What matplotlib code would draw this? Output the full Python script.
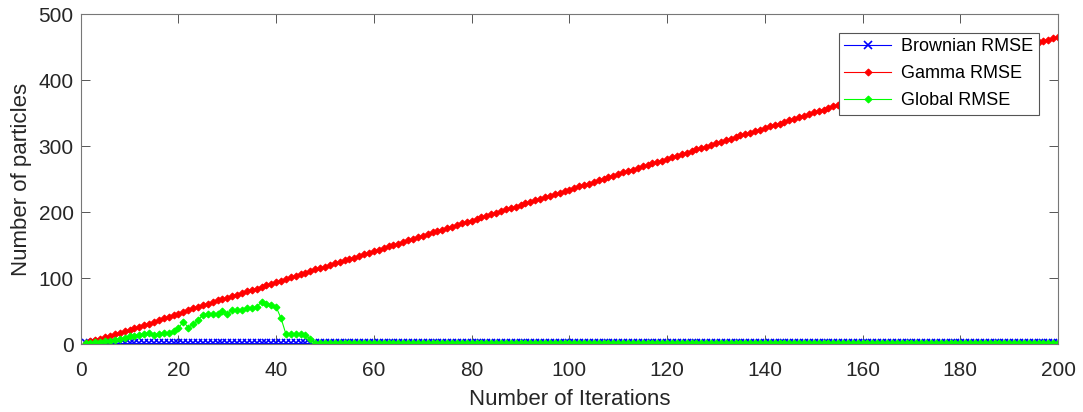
import numpy as np
import matplotlib.pyplot as plt

plt.rcParams['font.family'] = ['Liberation Sans', 'DejaVu Sans']

iterations = list(range(1, 201))

gamma_rmse = [
    2, 4, 6, 8, 10, 12, 15, 17, 19, 21,
    24, 26, 29, 31, 34, 36, 39, 41, 44, 46,
    49, 51, 54, 56, 59, 61, 63, 66, 68, 70,
    73, 75, 77, 80, 82, 84, 87, 89, 91, 94,
    96, 98, 101, 103, 106, 108, 110, 113, 115, 117,
    120, 122, 124, 127, 129, 131, 134, 136, 138, 141,
    143, 145, 148, 150, 152, 155, 157, 159, 162, 164,
    166, 169, 171, 173, 176, 178, 180, 183, 185, 187,
    190, 192, 194, 197, 199, 201, 204, 206, 208, 211,
    213, 215, 218, 220, 222, 225, 227, 229, 232, 234,
    236, 239, 241, 243, 246, 248, 250, 253, 255, 257,
    260, 262, 264, 267, 269, 271, 274, 276, 278, 281,
    283, 285, 288, 290, 292, 295, 297, 299, 302, 304,
    306, 309, 311, 313, 316, 318, 320, 323, 325, 327,
    330, 332, 334, 337, 339, 341, 344, 346, 348, 351,
    353, 355, 358, 360, 362, 365, 367, 369, 372, 374,
    376, 379, 381, 383, 386, 388, 390, 393, 395, 397,
    400, 402, 404, 407, 409, 411, 414, 416, 418, 421,
    423, 425, 428, 430, 432, 435, 437, 439, 442, 444,
    446, 449, 451, 453, 455, 457, 459, 461, 463, 465,
]

global_head = [
    1, 2, 3, 3, 4, 5, 6, 7, 9, 12,
    12, 14, 15, 16, 14, 15, 16, 17, 19, 24,
    34, 25, 30, 36, 44, 45, 45, 46, 50, 45,
    52, 52, 52, 55, 55, 56, 64, 60, 59, 56,
    39, 15, 15, 15, 15, 14, 7, 1,
]
global_tail = [1] * (200 - len(global_head))
global_rmse = global_head + global_tail

brownian_rmse = [1] * 200

fig, ax = plt.subplots(figsize=(10.83, 4.12), dpi=100)
fig.subplots_adjust(left=0.0745, right=0.977, top=0.966, bottom=0.165)

ax.plot(iterations, brownian_rmse, color='#0000ff', lw=0.8, marker='x',
        ms=5.5, mew=1.2, label='Brownian RMSE')
ax.plot(iterations, gamma_rmse, color='#ff0000', lw=0.8, marker='D',
        ms=3.5, mew=0.8, label='Gamma RMSE')
ax.plot(iterations, global_rmse, color='#00ff00', lw=0.8, marker='D',
        ms=3.5, mew=0.8, label='Global RMSE')

ax.set_xlim(0, 200)
ax.set_ylim(0, 500)
ax.set_xticks(np.arange(0, 201, 20))
ax.set_yticks(np.arange(0, 501, 100))
ax.tick_params(direction='in', length=6.5, width=0.7, color='#555555',
               labelsize=15, labelcolor='#262626', top=True, right=True)
ax.tick_params(axis='x', pad=12)
ax.tick_params(axis='y', pad=5)
for s in ax.spines.values():
    s.set_color('#777777')
    s.set_linewidth(0.8)

ax.set_xlabel('Number of Iterations', fontsize=16, color='#262626',
              labelpad=7)
ax.set_ylabel('Number of particles', fontsize=16, color='#262626',
              labelpad=5)

leg = ax.legend(loc='upper right', bbox_to_anchor=(0.98, 0.943),
                fontsize=13, fancybox=False, framealpha=1,
                edgecolor='#555555', handlelength=2.6, borderpad=0.3,
                labelspacing=0.55, handletextpad=0.55, borderaxespad=0)
leg.get_frame().set_linewidth(0.8)

fig.savefig('out.png', dpi=100)
